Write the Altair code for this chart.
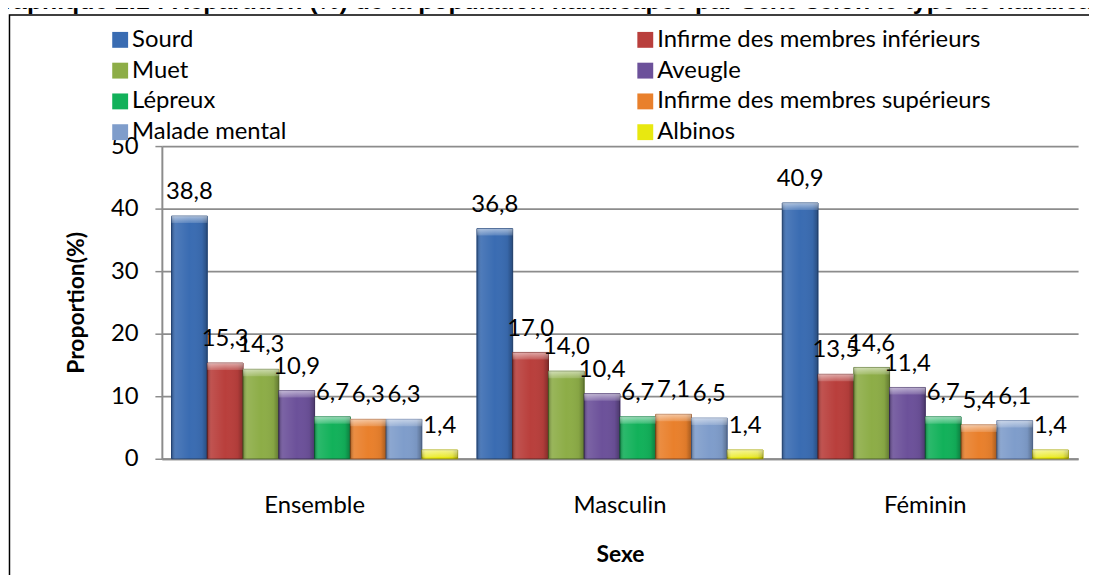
import altair as alt
import pandas as pd

# ---- data ----
sexes = ["Ensemble", "Masculin", "Féminin"]
types = [
    "Sourd",
    "Infirme des membres inférieurs",
    "Muet",
    "Aveugle",
    "Lépreux",
    "Infirme des membres supérieurs",
    "Malade mental",
    "Albinos",
]
ensemble = [38.8, 15.3, 14.3, 10.9, 6.7, 6.3, 6.3, 1.4]
masculin = [36.8, 17.0, 14.0, 10.4, 6.7, 7.1, 6.5, 1.4]
feminin = [40.9, 13.5, 14.6, 11.4, 6.7, 5.4, 6.1, 1.4]
y_ticks = [0, 10, 20, 30, 40, 50]

title_text = "Graphique 2.1 : Répartition (%) de la population handicapée par Sexe selon le type de handicap"

colors = ["#3A6CB2", "#B93F3C", "#8DAD47", "#6C519A", "#12B15A", "#E9802C", "#7F9DCB", "#E8E810"]
edges = ["#24497E", "#7E2725", "#5F7A2C", "#47336B", "#0A7A3C", "#A8551A", "#5772A0", "#A8A800"]

# legend laid out in two columns, read row by row (Vega fills column by column)
legend_order = types[0::2] + types[1::2]

rows = []
for s, vals in zip(sexes, [ensemble, masculin, feminin]):
    for t, v in zip(types, vals):
        rows.append({"Sexe": s, "Type": t, "Valeur": v})
df = pd.DataFrame(rows)

FONT = "Lato"
GRID = "#8C8C8C"
FS = 24

x_enc = alt.X(
    "Sexe:N",
    sort=sexes,
    scale=alt.Scale(paddingInner=0.063, paddingOuter=0.0317),
    axis=alt.Axis(
        title="Sexe",
        labelAngle=0,
        ticks=False,
        tickSize=0,
        labelPadding=47,
        labelBaseline="middle",
        labelFontSize=FS,
        labelFont=FONT,
        labelColor="black",
        titleFont=FONT,
        titleFontSize=23,
        titleFontWeight="bold",
        titleColor="black",
        titleY=96,
        titleBaseline="middle",
        domainColor=GRID,
        domainWidth=2,
        grid=False,
    ),
)
xo_enc = alt.XOffset("Type:N", sort=types, scale=alt.Scale(paddingInner=0, paddingOuter=0))
y_enc = alt.Y(
    "Valeur:Q",
    scale=alt.Scale(domain=[0, 50], nice=False, zero=True),
    axis=alt.Axis(
        values=y_ticks,
        title="Proportion(%)",
        titleFont=FONT,
        titleFontSize=23,
        titleFontWeight="bold",
        titleColor="black",
        titleAngle=-90,
        titleX=-86,
        titleY=157.5,
        titleBaseline="middle",
        titleAlign="center",
        labelFont=FONT,
        labelFontSize=FS,
        labelColor="black",
        labelPadding=17,
        tickSize=7,
        tickColor=GRID,
        tickWidth=1.5,
        domainColor=GRID,
        domainWidth=2,
        grid=True,
        gridColor=GRID,
        gridWidth=1.8,
    ),
)

color_enc = alt.Color(
    "Type:N",
    sort=types,
    scale=alt.Scale(domain=types, range=colors),
    legend=alt.Legend(
        title=None,
        orient="none",
        legendX=-54,
        legendY=-119,
        columns=2,
        values=legend_order,
        symbolType="square",
        symbolSize=256,
        symbolStrokeWidth=0,
        labelFont=FONT,
        labelFontSize=FS,
        labelColor="black",
        labelOffset=0,
        labelLimit=600,
        columnPadding=349,
        rowPadding=7,
        padding=0,
    ),
)

base = alt.Chart(df)

bars = base.mark_bar(strokeWidth=1).encode(
    x=x_enc,
    xOffset=xo_enc,
    y=y_enc,
    color=color_enc,
    stroke=alt.Stroke("Type:N", sort=types, scale=alt.Scale(domain=types, range=edges), legend=None),
)

shade = base.mark_bar(
    color=alt.LinearGradient(
        gradient="linear",
        x1=0, x2=1, y1=0, y2=0,
        stops=[
            alt.GradientStop(color="rgba(0,0,0,0.28)", offset=0),
            alt.GradientStop(color="rgba(255,255,255,0.10)", offset=0.12),
            alt.GradientStop(color="rgba(255,255,255,0.0)", offset=0.5),
            alt.GradientStop(color="rgba(0,0,0,0.05)", offset=0.85),
            alt.GradientStop(color="rgba(0,0,0,0.30)", offset=1),
        ],
    )
).encode(x=x_enc, xOffset=xo_enc, y="Valeur:Q")

bevel = base.mark_bar(
    y2Offset=7,
    color=alt.LinearGradient(
        gradient="linear",
        x1=0, x2=0, y1=0, y2=1,
        stops=[
            alt.GradientStop(color="rgba(255,255,255,0.55)", offset=0),
            alt.GradientStop(color="rgba(255,255,255,0.15)", offset=1),
        ],
    ),
).encode(x=x_enc, xOffset=xo_enc, y="Valeur:Q", y2="Valeur:Q")

labels = base.transform_calculate(
    Label="replace(format(datum.Valeur, '.1f'), '.', ',')"
).mark_text(dy=-24, baseline="middle", align="center", font=FONT, fontSize=FS, color="black").encode(
    x=x_enc, xOffset=xo_enc, y="Valeur:Q", text="Label:N"
)

border = alt.Chart(pd.DataFrame({"k": [0]})).mark_rect(
    fillOpacity=0, stroke="black", strokeWidth=1.5
).encode(x=alt.value(-153.5), x2=alt.value(990), y=alt.value(-132), y2=alt.value(500))

title = alt.Chart(pd.DataFrame({"t": [title_text]})).mark_text(
    align="left", baseline="alphabetic", font="Liberation Sans", fontSize=25, fontWeight="bold", color="black"
).encode(text="t:N", x=alt.value(-179), y=alt.value(-138))

chart = (
    alt.layer(bars, shade, bevel, labels, border, title)
    .properties(
        width=923,
        height=315,
        padding={"left": 155, "top": 137, "right": 11, "bottom": 115},
        autosize=alt.AutoSizeParams(type="none"),
    )
    .configure_view(stroke=None)
)

chart.save("out.html", embed_options={"renderer": "svg", "actions": False})
